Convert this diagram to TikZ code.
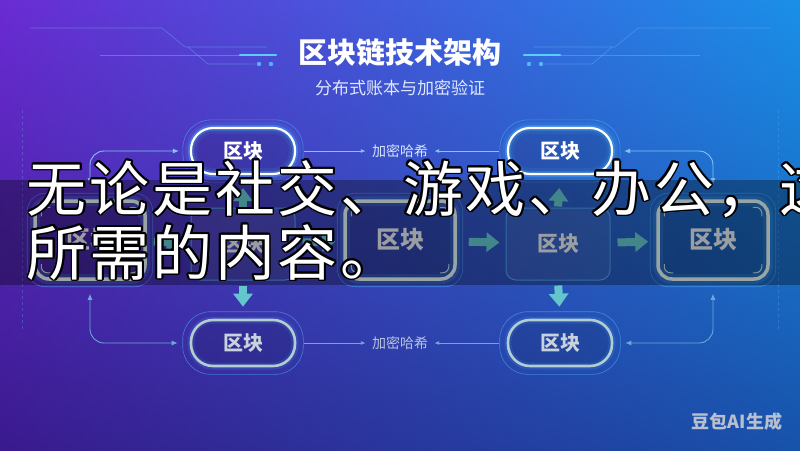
\documentclass[tikz,border=0pt]{standalone}
\usepackage{fontspec}
\setmainfont{Noto Sans CJK SC}
\newfontfamily\cjk{Noto Sans CJK SC}
\usepackage{contour}
\contourlength{1.8pt}
\usetikzlibrary{arrows.meta,calc,shadings}
\definecolor{bgUL}{HTML}{6A2BD3}
\definecolor{bgUR}{HTML}{1990E8}
\definecolor{bgLL}{HTML}{3A1A8E}
\definecolor{bgLR}{HTML}{1752AA}
\definecolor{glowc}{HTML}{4DB8FF}
\definecolor{botbord}{HTML}{B3CDD1}
\definecolor{bottext}{HTML}{C8D2DC}
\definecolor{blkbord}{HTML}{E2F4F4}
\definecolor{blktext}{HTML}{E4EAF0}
\definecolor{thinbord}{HTML}{4C9EE8}
\definecolor{arrteal}{HTML}{62C6CC}
\definecolor{lineTop}{HTML}{84C4F2}
\definecolor{lineBot}{HTML}{6CA8D8}
\definecolor{labtop}{HTML}{D6E4FF}
\definecolor{labbot}{HTML}{B8C4DE}
\definecolor{wmc}{HTML}{B8C0CF}
\definecolor{subc}{HTML}{E0E8FF}
\definecolor{decoc}{HTML}{6AB0F0}
\definecolor{barc}{HTML}{5CCBFF}
\newcommand\blkring[3]{\draw[#3] ($(#1.south west)+(-#2,#2)$) rectangle ($(#1.north east)+(#2,-#2)$);}
\newcommand\blkcorners[1]{%
  \draw[cornermark] ($(#1.north west)+(8,17)$) |- ($(#1.north west)+(17,8)$);
  \draw[cornermark] ($(#1.north east)+(-8,17)$) |- ($(#1.north east)+(-17,8)$);
  \draw[cornermark] ($(#1.south west)+(8,-17)$) |- ($(#1.south west)+(17,-8)$);
  \draw[cornermark] ($(#1.south east)+(-8,-17)$) |- ($(#1.south east)+(-17,-8)$);}
\begin{document}
\begin{tikzpicture}[x=1pt,y=-1pt,
  pilltop/.style={draw=white, line width=2.2pt, rounded corners=22pt,
    minimum width=104pt, minimum height=46pt, fill=black, fill opacity=0.12,
    text opacity=1, text=white, font=\cjk\bfseries\fontsize{20}{20}\selectfont,
    preaction={draw=glowc, line width=12pt, draw opacity=0.12},
    preaction={draw=glowc, line width=6pt, draw opacity=0.35}},
  pillbot/.style={draw=botbord, line width=2.6pt, rounded corners=22pt,
    minimum width=104pt, minimum height=46pt, fill=black, fill opacity=0.1,
    text opacity=1, text=bottext, font=\cjk\bfseries\fontsize{20}{20}\selectfont,
    preaction={draw=glowc, line width=7pt, draw opacity=0.15}},
  glowblk/.style={draw=blkbord, line width=3.5pt, rounded corners=14pt,
    minimum width=110pt, minimum height=78pt, fill=black, fill opacity=0.1,
    text opacity=1, text=blktext, font=\cjk\bfseries\fontsize{24}{24}\selectfont,
    preaction={draw=glowc, line width=10pt, draw opacity=0.2}},
  thinblk/.style={draw=thinbord, line width=1pt, rounded corners=10pt,
    minimum width=104pt, minimum height=72pt, fill=white, fill opacity=0.06,
    text opacity=1, text=blktext, font=\cjk\bfseries\fontsize{21}{21}\selectfont},
  cornermark/.style={draw=blkbord, line width=1pt, rounded corners=6pt, opacity=0.8},
  ringline/.style={draw=glowc, line width=0.6pt, opacity=0.55, rounded corners=#1},
  thickarr/.style={draw=arrteal, line width=8pt, -{Triangle[width=19pt,length=13pt]}},
  thinconn/.style={line width=0.9pt, rounded corners=14pt,
    {Latex[length=6pt,width=5pt]}-{Latex[length=6pt,width=5pt]}},
  labconn/.style={line width=0.9pt, -{Latex[length=5pt,width=4pt]}},
  lab/.style={font=\cjk\fontsize{14}{14}\selectfont, inner sep=4pt},
  ovtext/.style={anchor=base, inner sep=0pt, text=white, font=\cjk\fontsize{60}{60}\selectfont},
  decoline/.style={draw=decoc, line width=0.6pt, opacity=0.5}]
\useasboundingbox (0,0) rectangle (800,450);
% background
\shade[upper left=bgUL, upper right=bgUR, lower left=bgLL, lower right=bgLR] (0,0) rectangle (800,450);
% edge dashed lines
\draw[decoline, dashed, opacity=0.3] (22,110) -- (22,330);
\draw[decoline, dashed, opacity=0.3] (778,110) -- (778,330);
% title decorations (right, then mirrored left)
\foreach \s in {1,-1}{
  \begin{scope}[shift={(400,0)}, xscale=\s]
    \draw[decoline] (133,47) -- (215,47) -- (238,28) -- (370,28);
    \draw[decoline] (160,55) -- (300,55);
    \draw[decoline] (145,64) -- (192,64) -- (212,47);
    \draw[draw=barc, line width=2.5pt, line cap=round] (124,55) -- (160,55);
    \fill[barc, opacity=0.8] (129,64) circle (2.2) (141,64) circle (2.2);
  \end{scope}
}
% title
\node[font=\cjk\bfseries\fontsize{29}{29}\selectfont, text=white] (title) at (400,52) {区块链技术架构};
\node[font=\cjk\fontsize{17}{17}\selectfont, text=subc] (subtitle) at (400,88) {分布式账本与加密验证};
% nodes
\node[pilltop] (t1) at (243,151) {区块};
\node[pilltop] (t2) at (560,151) {区块};
\node[pillbot] (b1) at (243,343) {区块};
\node[pillbot] (b2) at (560,343) {区块};
\node[glowblk] (m1) at (90,240) {区块};
\node[thinblk] (m2) at (243,244) {区块};
\node[glowblk] (m3) at (400,240) {区块};
\node[thinblk] (m4) at (558,244) {区块};
\node[glowblk] (m5) at (713,240) {区块};
\node[lab, text=labtop] (lab1) at (400,151) {加密哈希};
\node[lab, text=labbot] (lab2) at (400,343) {加密哈希};
% rings
\foreach \n in {t1,t2,b1,b2}{\blkring{\n}{7}{ringline=28pt}}
\foreach \n in {m1,m3,m5}{\blkring{\n}{6}{ringline=18pt}\blkcorners{\n}}
% thick arrows
\draw[thickarr, shorten <=7pt, shorten >=11pt] (m1) -- (m2);
\draw[thickarr, shorten <=7pt, shorten >=8pt] (m2) -- (m3);
\draw[thickarr, shorten <=12pt, shorten >=6pt] (m3) -- (m4);
\draw[thickarr, shorten <=7pt, shorten >=8pt] (m4) -- (m5);
\draw[thickarr, shorten <=1pt, shorten >=13pt] (m2.north) -- (t1.south);
\draw[thickarr, shorten <=1pt, shorten >=13pt] (m4.north) -- (t2.south);
\draw[thickarr, shorten <=5pt, shorten >=12pt] (m2.south) -- (b1.north);
\draw[thickarr, shorten <=5pt, shorten >=12pt] (m4.south) -- (b2.north);
% thin connectors
\draw[thinconn, draw=lineTop, fill=none, shorten <=15pt, shorten >=11pt] (m1.north) |- (t1.west);
\draw[thinconn, draw=lineBot, shorten <=13pt, shorten >=12pt] (m1.south) |- (b1.west);
\draw[thinconn, draw=lineTop, shorten <=15pt, shorten >=11pt] (m5.north) |- (t2.east);
\draw[thinconn, draw=lineBot, shorten <=13pt, shorten >=12pt] (m5.south) |- (b2.east);
\draw[labconn, draw=lineTop, shorten <=8pt, shorten >=2pt] (t1.east) -- (lab1.west);
\draw[labconn, draw=lineTop, shorten <=8pt, shorten >=2pt] (t2.west) -- (lab1.east);
\draw[labconn, draw=lineBot, shorten <=8pt, shorten >=2pt] (b1.east) -- (lab2.west);
\draw[labconn, draw=lineBot, shorten <=8pt, shorten >=2pt] (b2.west) -- (lab2.east);
% dark band
\fill[black, opacity=0.32] (0,180) rectangle (800,285);
% overlay text
\begin{scope}
  \clip (0,0) rectangle (800,450);
  \foreach \c [count=\i from 0] in {无,论,是,社,交,、,游,戏,、,办,公,，,这}
    \node[ovtext] (ta\i) at (57+62.7*\i,211) {\contour{black}{\c}};
  \foreach \c [count=\i from 0] in {所,需,的,内,容,。}
    \node[ovtext] (tb\i) at (57+62.7*\i,275) {\contour{black}{\c}};
\end{scope}
% watermark
\node[font=\cjk\bfseries\fontsize{18}{18}\selectfont, text=wmc] (wm) at (737,422) {豆包AI生成};
\end{tikzpicture}
\end{document}
